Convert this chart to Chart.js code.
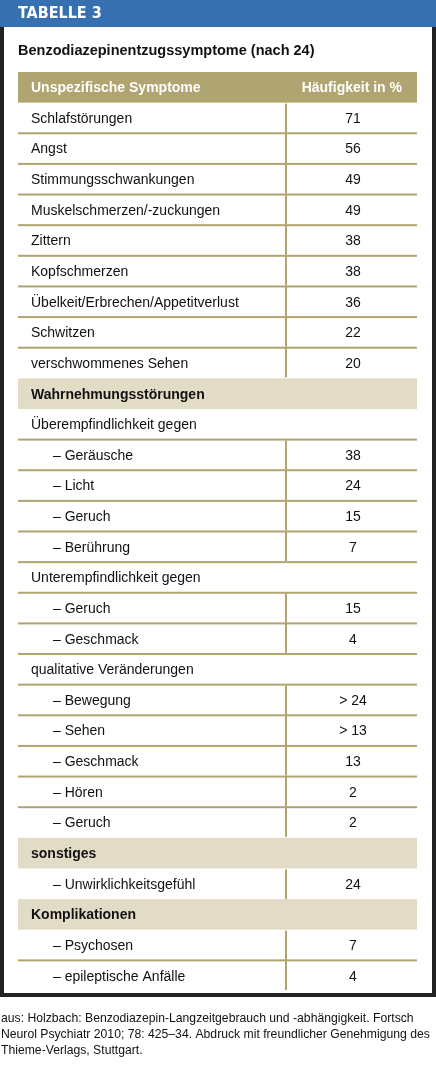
<!DOCTYPE html>
<html>
<head>
<meta charset="utf-8">
<script src="https://cdn.jsdelivr.net/npm/chart.js@4"></script>
<style>
  body { margin: 0; background: #fff; }
  #tableChart { display: block; }
</style>
</head>
<body>
<canvas id="tableChart" width="436" height="1066"></canvas>
<script>
// Zeilen der Tabelle (erste Zeile = Kopfzeile)
const rows = [
  "Unspezifische Symptome", "Schlafstörungen", "Angst", "Stimmungsschwankungen",
  "Muskelschmerzen/-zuckungen", "Zittern", "Kopfschmerzen", "Übelkeit/Erbrechen/Appetitverlust",
  "Schwitzen", "verschwommenes Sehen", "Wahrnehmungsstörungen", "Überempfindlichkeit gegen",
  "– Geräusche", "– Licht", "– Geruch", "– Berührung", "Unterempfindlichkeit gegen",
  "– Geruch", "– Geschmack", "qualitative Veränderungen", "– Bewegung", "– Sehen",
  "– Geschmack", "– Hören", "– Geruch", "sonstiges", "– Unwirklichkeitsgefühl",
  "Komplikationen", "– Psychosen", "– epileptische Anfälle"
];
// h = Kopf, s = Abschnitt, u = Unterüberschrift, v = Wert
const kinds = ["h","v","v","v","v","v","v","v","v","v","s","u","v","v","v","v","u","v","v","u","v","v","v","v","v","s","v","s","v","v"];
const values = [null,71,56,49,49,38,38,36,22,20,null,null,38,24,15,7,null,15,4,null,24,13,13,2,2,null,24,null,7,4];
const prefixes = ["","","","","","","","","","","","","","","","","","","","","> ","> ","","","","","","","",""];

const TAN = "#b0a470", LIGHT = "#e2dbc6", BLUE = "#3670b0";

const tablePlugin = {
  id: "table",
  beforeDatasetsDraw(chart) {
    const c = chart.ctx, y = chart.scales.y, a = chart.chartArea;
    const rh = y.getPixelForValue(1) - y.getPixelForValue(0);
    const divX = 285;
    c.save();
    // Rahmen und Kopf
    c.fillStyle = "#222";
    c.fillRect(0, 0, 4, 997); c.fillRect(432, 0, 4, 997); c.fillRect(0, 993, 436, 4);
    c.fillStyle = BLUE; c.fillRect(0, 0, 436, 27);
    c.fillStyle = "#fff"; c.font = "bold 16px 'DejaVu Sans Condensed'"; c.textBaseline = "middle";
    c.fillText("TABELLE 3", 18, 14);
    c.fillStyle = "#111"; c.font = "bold 14.5px 'Liberation Sans'";
    c.fillText("Benzodiazepinentzugssymptome (nach 24)", 18, 51);

    rows.forEach((label, i) => {
      const cy = y.getPixelForValue(i), top = cy - rh / 2, bot = cy + rh / 2;
      const k = kinds[i];
      if (k === "h") { c.fillStyle = TAN; c.fillRect(a.left, top, a.right - a.left, rh); }
      if (k === "s") { c.fillStyle = LIGHT; c.fillRect(a.left, top, a.right - a.left, rh); }
      if (k === "v") { c.fillStyle = TAN; c.fillRect(divX, top + (kinds[i-1] === "v" ? 0 : 1), 2, rh - 1); }
      if (i < rows.length - 1 && k !== "h" && k !== "s" && kinds[i+1] !== "s") {
        c.fillStyle = TAN; c.fillRect(a.left, bot - 1, a.right - a.left, 2);
      }
      const indent = label.startsWith("–") ? 53 : 31;
      c.textAlign = "left";
      c.fillStyle = k === "h" ? "#fff" : "#111";
      c.font = (k === "h" || k === "s" ? "bold " : "") + "14px 'Liberation Sans'";
      c.fillText(label, indent, cy + 1);
      if (k === "h") { c.textAlign = "right"; c.fillText("Häufigkeit in %", 402, cy + 1); }
      if (values[i] !== null) { c.textAlign = "center"; c.fillText(prefixes[i] + values[i], 353, cy + 1); }
    });

    c.textAlign = "left"; c.fillStyle = "#111"; c.font = "12.2px 'Liberation Sans'";
    c.fillText("aus: Holzbach: Benzodiazepin-Langzeitgebrauch und -abhängigkeit. Fortsch", 1, 1019);
    c.fillText("Neurol Psychiatr 2010; 78: 425–34. Abdruck mit freundlicher Genehmigung des", 1, 1035);
    c.fillText("Thieme-Verlags, Stuttgart.", 1, 1051);
    c.restore();
  }
};

new Chart(document.getElementById("tableChart"), {
  type: "bar",
  data: {
    labels: rows,
    datasets: [{ data: values.map(v => v ?? 0), backgroundColor: "rgba(0,0,0,0)" }]
  },
  options: {
    indexAxis: "y",
    responsive: false,
    animation: false,
    layout: { padding: { top: 72, bottom: 75, left: 18, right: 19 } },
    scales: {
      y: { type: "category", offset: true, display: false },
      x: { display: false, beginAtZero: true }
    },
    plugins: { legend: { display: false }, tooltip: { enabled: false } }
  },
  plugins: [tablePlugin]
});
</script>
</body>
</html>
